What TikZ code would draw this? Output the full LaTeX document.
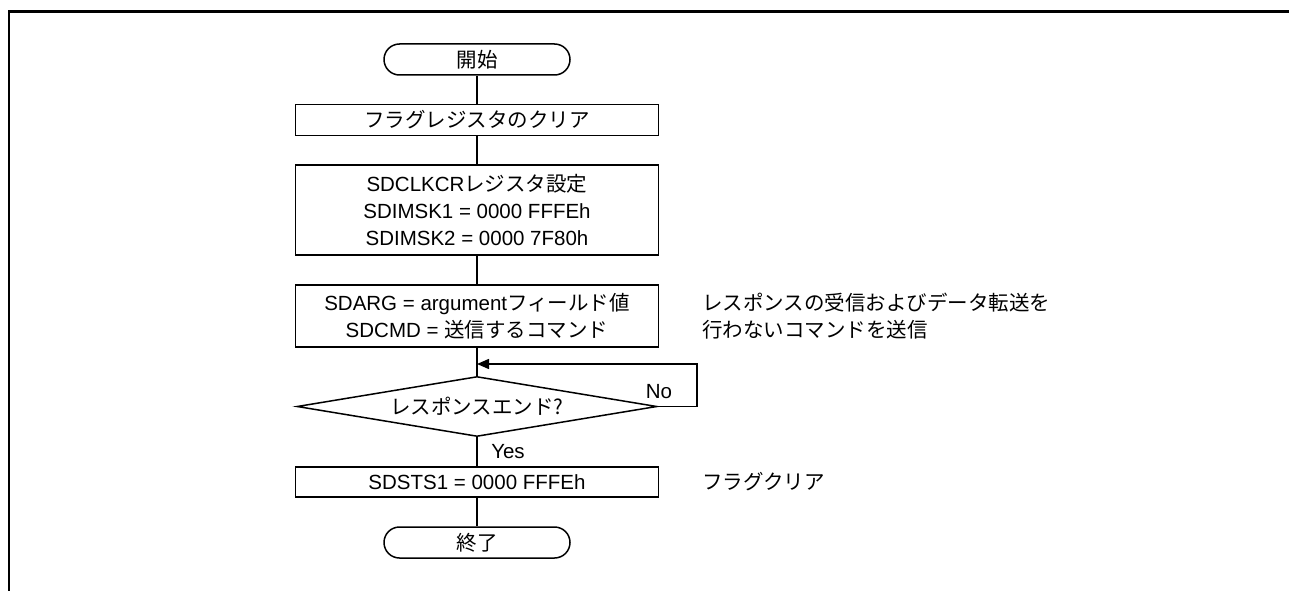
\documentclass[tikz,border=0pt]{standalone}
\usepackage{fontspec}
\setmainfont{Liberation Sans}
\newfontfamily\jp[Scale=1.0]{Noto Sans CJK JP}
\usetikzlibrary{shapes.geometric,arrows.meta}
\begin{document}
\begin{tikzpicture}[x=1pt,y=-1pt,
  every node/.style={font=\fontsize{20.5}{27}\selectfont},
  jpfont/.style={font=\jp\fontsize{20.5}{27}\selectfont},
  line/.style={line width=1.5pt},
  proc/.style={draw, line width=1.5pt, minimum width=363pt, inner sep=0pt, align=center},
  term/.style={draw, line width=1.5pt, rounded corners=15.5pt, minimum width=186pt, minimum height=31pt, inner sep=0pt, jpfont},
  decis/.style={draw, diamond, aspect=6, line width=1.5pt, minimum width=360pt, minimum height=60pt, inner sep=0pt, jpfont},
  note/.style={anchor=west, align=left, inner sep=0pt, jpfont},
  arr/.style={line width=1.5pt, -{Triangle[length=12pt,width=10pt]}}]
\useasboundingbox (0,0) rectangle (1289,591);
% frame
\draw[line width=2.6pt] (1295,11.5) -- (9,11.5) -- (9,600);
% nodes
\node[term] (start) at (477,59.5) {開始};
\node[proc, minimum height=31pt, jpfont] (b1) at (477,120) {フラグレジスタのクリア};
\node[proc, minimum height=90pt] (b2) at (477,210) {SDCLKCR{\jp レジスタ設定}\\SDIMSK1 = 0000 FFFEh\\SDIMSK2 = 0000 7F80h};
\node[proc, minimum height=62pt] (b3) at (477,316) {SDARG = argument{\jp フィールド値}\\SDCMD = {\jp 送信するコマンド}};
\node[decis] (dec) at (477,406.5) {レスポンスエンド?};
\node[proc, minimum height=30pt] (b4) at (477,482) {SDSTS1 = 0000 FFFEh};
\node[term] (end) at (477,542.5) {終了};
\node (yes) at (508,452) {Yes};
\node (no) at (659,392) {No};
\node[note] (n1) at (702,316.5) {レスポンスの受信およびデータ転送を\\行わないコマンドを送信};
\node[note] (n2) at (702,482) {フラグクリア};
% connectors
\draw[line] (start) -- (b1);
\draw[line] (b1) -- (b2);
\draw[line] (b2) -- (b3);
\draw[line] (b3) -- (dec);
\draw[line] (dec) -- (b4);
\draw[line] (b4) -- (end);
\coordinate (loopin) at (477,364);
\coordinate (loopR) at (697,364);
\draw[arr] (dec.east) -| (loopR) -- (loopin);
\end{tikzpicture}
\end{document}
